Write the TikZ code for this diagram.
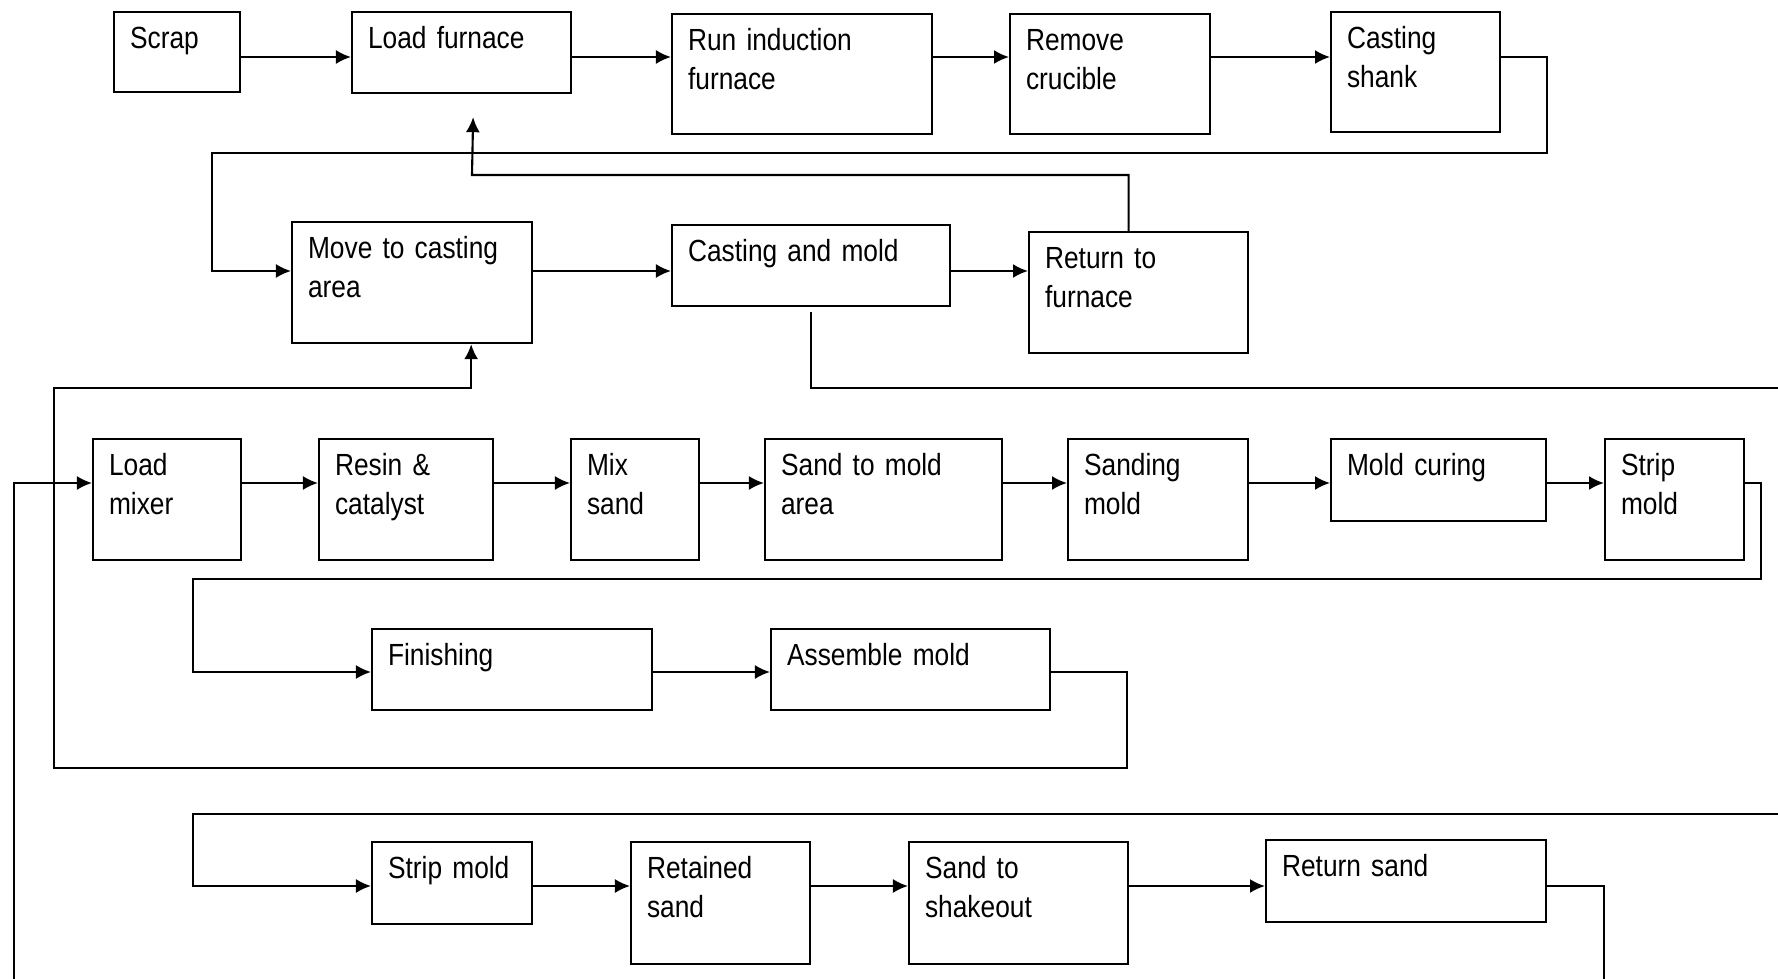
\documentclass[tikz,border=0pt]{standalone}
\usepackage{fontspec}
\setmainfont[FakeStretch=0.86]{Liberation Sans}
\usetikzlibrary{arrows.meta}

\begin{document}
\begin{tikzpicture}[%
    x=0.01cm, y=-0.01cm,
    line width=0.6pt,
    >={Latex[length=1.5mm,width=1.4mm]},
stepbox/.style={rectangle, draw, anchor=north west, align=left, inner xsep=0.16cm, inner ysep=0pt, text height=0.36cm, font=\fontsize{8.7}{11.1}\selectfont}
]
\useasboundingbox (0,0) rectangle (1778,979);

% arrow levels
\coordinate (r1) at (0,57);
\coordinate (r2) at (0,271);
\coordinate (r3) at (0,483);
\coordinate (r4) at (0,672);
\coordinate (r5) at (0,886);

% furnace nodes
\node[stepbox, text width=0.94cm, text depth=0.44cm] (scrap) at (113,11) {Scrap};
\node[stepbox, text width=1.87cm, text depth=0.45cm] (loadfurnace) at (351,11) {Load furnace};
\node[stepbox, text width=2.28cm, text depth=0.84cm] (runfurnace) at (671,13) {Run induction\\furnace};
\node[stepbox, text width=1.68cm, text depth=0.84cm] (removecrucible) at (1009,13) {Remove\\crucible};
\node[stepbox, text width=1.37cm, text depth=0.84cm] (castingshank) at (1330,11) {Casting\\shank};

% casting nodes
\node[stepbox, text width=2.08cm, text depth=0.85cm] (movecasting) at (291,221) {Move to casting\\area};
\node[stepbox, text width=2.46cm, text depth=0.45cm] (castingmold) at (671,224) {Casting and mold};
\node[stepbox, text width=1.87cm, text depth=0.85cm] (returnfurnace) at (1028,231) {Return to\\furnace};

% sand nodes
\node[stepbox, text width=1.16cm, text depth=0.85cm] (loadmixer) at (92,438) {Load\\mixer};
\node[stepbox, text width=1.42cm, text depth=0.85cm] (resin) at (318,438) {Resin \&\\catalyst};
\node[stepbox, text width=0.96cm, text depth=0.85cm] (mixsand) at (570,438) {Mix\\sand};
\node[stepbox, text width=2.05cm, text depth=0.85cm] (sandmold) at (764,438) {Sand to mold\\area};
\node[stepbox, text width=1.48cm, text depth=0.85cm] (sanding) at (1067,438) {Sanding\\mold};
\node[stepbox, text width=1.83cm, text depth=0.46cm] (moldcuring) at (1330,438) {Mold curing};
\node[stepbox, text width=1.07cm, text depth=0.85cm] (stripmold) at (1604,438) {Strip\\mold};

% mold nodes
\node[stepbox, text width=2.48cm, text depth=0.45cm] (finishing) at (371,628) {Finishing};
\node[stepbox, text width=2.47cm, text depth=0.45cm] (assemble) at (770,628) {Assemble mold};

% shakeout nodes
\node[stepbox, text width=1.28cm, text depth=0.46cm] (stripmoldb) at (371,841) {Strip mold};
\node[stepbox, text width=1.47cm, text depth=0.86cm] (retained) at (630,841) {Retained\\sand};
\node[stepbox, text width=1.87cm, text depth=0.86cm] (shakeout) at (908,841) {Sand to\\shakeout};
\node[stepbox, text width=2.48cm, text depth=0.46cm] (returnsand) at (1265,839) {Return sand};

% loop corners and page edges
\coordinate (shankloop) at (1547,153);
\coordinate (shankin) at (212,271);
\coordinate (backfurnace) at (472,175);
\coordinate (moldout) at (1778,388);
\coordinate (assembleloop) at (1127,768);
\coordinate (assemblein) at (54,388);
\coordinate (striploop) at (1761,579);
\coordinate (stripin) at (193,672);
\coordinate (shakein) at (1778,814);
\coordinate (shakeloop) at (193,886);
\coordinate (sandout) at (1604,979);
\coordinate (sandin) at (14,979);

% furnace lines
\draw[->] (scrap.east |- r1) -- (loadfurnace.west |- r1);
\draw[->] (loadfurnace.east |- r1) -- (runfurnace.west |- r1);
\draw[->] (runfurnace.east |- r1) -- (removecrucible.west |- r1);
\draw[->] (removecrucible.east |- r1) -- (castingshank.west |- r1);
\draw[->] (castingshank.east |- r1) -| (shankloop) -| (shankin) -- (movecasting.west |- r2);

% casting lines
\draw[->] (movecasting.east |- r2) -- (castingmold.west |- r2);
\draw[->] (castingmold.east |- r2) -- (returnfurnace.west |- r2);
\draw[->] ([xshift=-0.1cm]returnfurnace.north) |- (backfurnace) -- ([xshift=0.115cm, yshift=-0.23cm]loadfurnace.south);
\draw ([yshift=-0.05cm]castingmold.south) |- (moldout);

% sand lines
\draw[->] (loadmixer.east |- r3) -- (resin.west |- r3);
\draw[->] (resin.east |- r3) -- (mixsand.west |- r3);
\draw[->] (mixsand.east |- r3) -- (sandmold.west |- r3);
\draw[->] (sandmold.east |- r3) -- (sanding.west |- r3);
\draw[->] (sanding.east |- r3) -- (moldcuring.west |- r3);
\draw[->] (moldcuring.east |- r3) -- (stripmold.west |- r3);
\draw[->] (stripmold.east |- r3) -| (striploop) -| (stripin) -- (finishing.west |- r4);

% mold lines
\draw[->] (finishing.east |- r4) -- (assemble.west |- r4);
\draw[->] (assemble.east |- r4) -| (assembleloop) -| (assemblein) -| ([xshift=0.59cm]movecasting.south);

% shakeout lines
\draw[->] (shakein) -| (shakeloop) -- (stripmoldb.west |- r5);
\draw[->] (stripmoldb.east |- r5) -- (retained.west |- r5);
\draw[->] (retained.east |- r5) -- (shakeout.west |- r5);
\draw[->] (shakeout.east |- r5) -- (returnsand.west |- r5);
\draw (returnsand.east |- r5) -| (sandout);
\draw[->] (sandin) |- (loadmixer.west |- r3);

\end{tikzpicture}
\end{document}
